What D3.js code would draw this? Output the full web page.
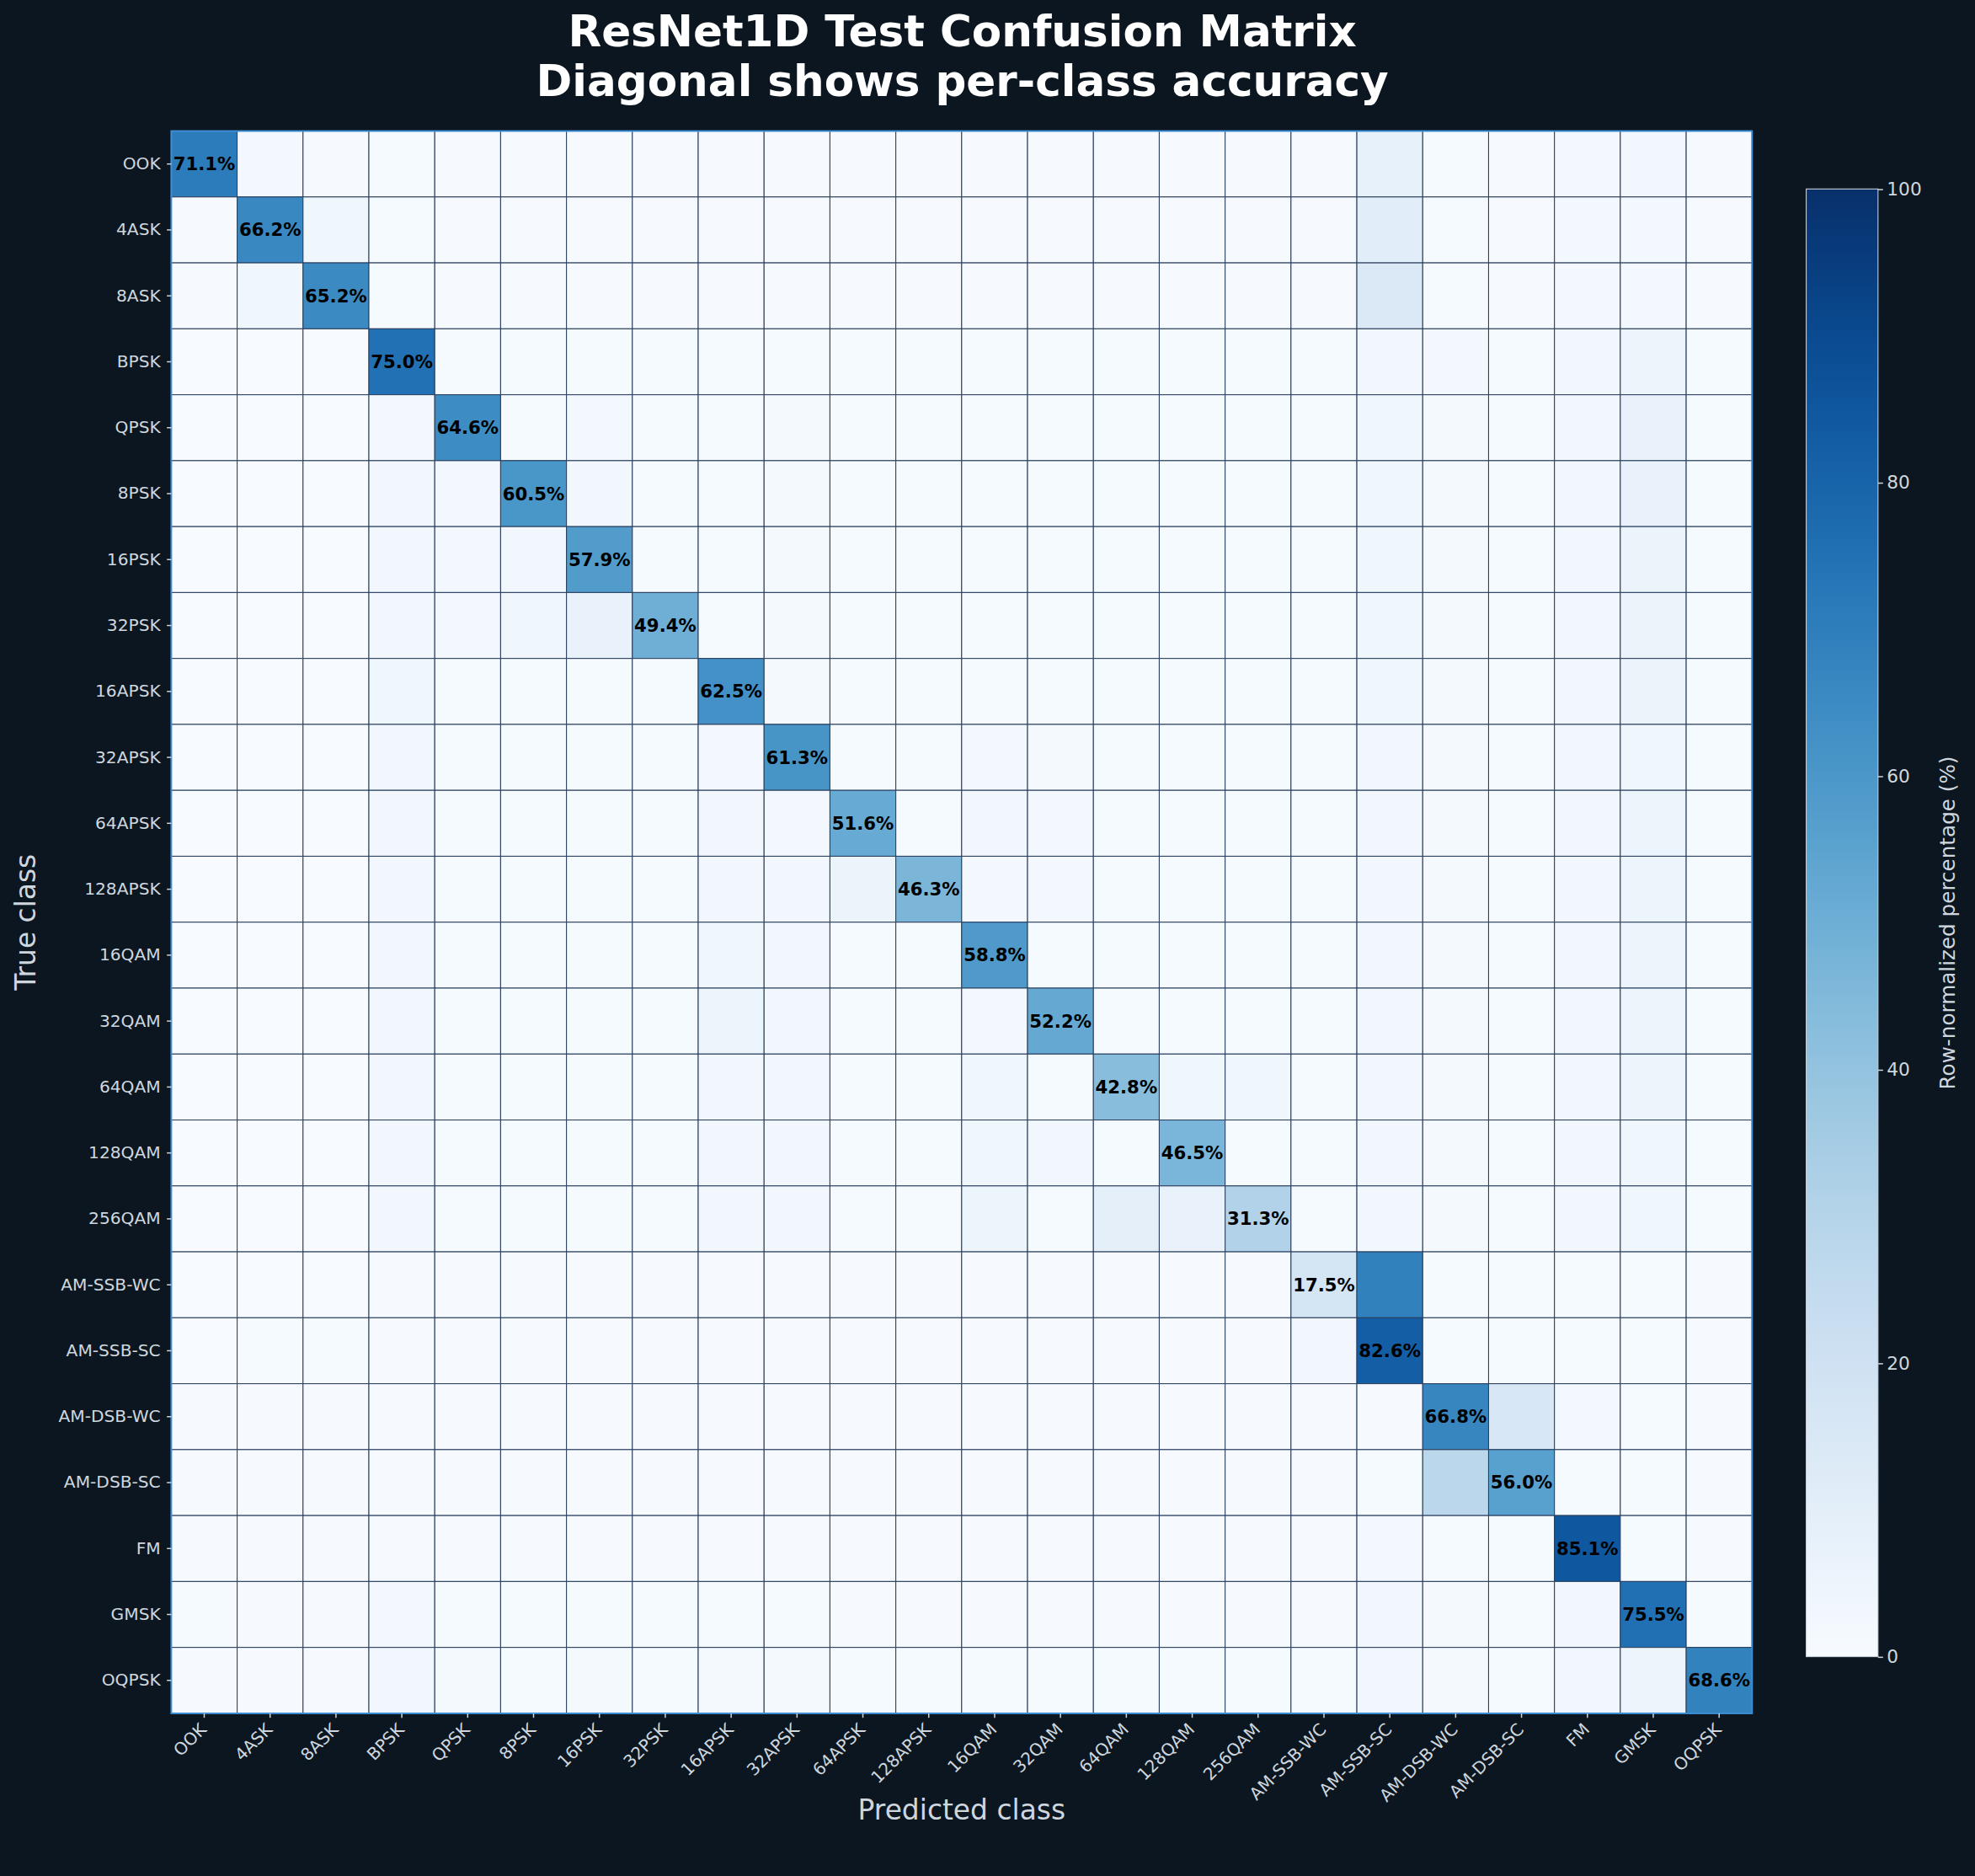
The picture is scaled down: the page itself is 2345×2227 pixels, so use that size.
<!DOCTYPE html>
<html><head><meta charset="utf-8">
<script src="https://cdn.jsdelivr.net/npm/d3@7"></script>
<style>body{margin:0;background:#0b1620;}</style></head>
<body><svg id="c" width="2345" height="2227"></svg>
<script>
const classes=["OOK","4ASK","8ASK","BPSK","QPSK","8PSK","16PSK","32PSK","16APSK","32APSK","64APSK","128APSK","16QAM","32QAM","64QAM","128QAM","256QAM","AM-SSB-WC","AM-SSB-SC","AM-DSB-WC","AM-DSB-SC","FM","GMSK","OQPSK"];
// Row-normalized percentages (true class rows, predicted class columns)
const matrix=[
[71.1,2,0.5,1,0.5,0.5,0.5,0.5,0.5,0.5,0.5,0.5,0.5,0.5,0.5,0.5,0.5,0.5,8,1,0.5,2,3,0.5],
[0.5,66.2,4,1,0.5,0.5,0.5,0.5,0.5,0.5,0.5,0.5,0.5,0.5,0.5,0.5,0.5,0.5,11,1,0.5,2,2,0.5],
[0.5,4,65.2,1,0.5,0.5,0.5,0.5,0.5,0.5,0.5,0.5,0.5,0.5,0.5,0.5,0.5,0.5,14,1,0.5,2,2,0.5],
[0.2,0.2,0.2,75.0,1,1,1,1,1,1,1,1,1,1,1,1,1,1,3,2,1,3,5,1],
[0.2,0.2,0.2,2,64.6,1,2,1,1,1.5,1,1,1,1,1,1,1,1,4,1.5,1,3,7,1],
[0.2,0.2,0.2,3,2,60.5,3,1,1,1.5,1,1,1,1,1,1,1,1,4,1.5,1,3,7,1],
[0.2,0.2,0.2,3,2,3,57.9,1,1,1.5,1,1,1,1,1,1,1,1,4,1.5,1,3,6,1],
[0.2,0.2,0.2,3,2,4,7,49.4,1,1.5,1,1,1,1,1,1,1,1,4,1.5,1,3,6,1],
[0.2,0.2,0.2,4,1,1,1,1,62.5,1.5,1,1,1,1,1,1,1,1,4,1.5,1,3,6,1],
[0.2,0.2,0.2,3,1,1,1,1,2,61.3,1,1,2,1.5,1,1,1,1,3,1.5,1,3,4,1],
[0.2,0.2,0.2,3,1,1,1,1,3,2,51.6,1,3,2,1,1,1,1,3,1.5,1,3,5,1],
[0.2,0.2,0.2,3,1,1,1,1,3,3,6,46.3,2,2,1,1,1,1,3,1.5,1,3,5,1],
[0.2,0.2,0.2,3,1,1,1,1,4,3,1,1,58.8,1,1,1,1,1,3,1.5,1,3,5,1],
[0.2,0.2,0.2,3,1,1,1,1,5,3,1,1,2,52.2,1,1,1,1,3,1.5,1,3,5,1],
[0.2,0.2,0.2,3,1,1,1,1,3,3,1,1,4,1,42.8,4,4,1,3,1.5,1,3,5,1],
[0.2,0.2,0.2,3,1,1,1,1,3,3,1,1,4,3,1,46.5,1,1,3,1.5,1,3,4,1],
[0.2,0.2,0.2,3,1,1,1,1,3,3,1,1,5,1,9,7,31.3,1,3,1.5,1,3,4,1],
[0.2,0.2,0.2,0.5,0.5,0.5,0.5,0.5,0.5,0.5,0.5,0.5,0.5,0.5,0.5,0.5,0.5,17.5,69,1,1,1,1,0.5],
[0.2,1,1,0.5,0.5,0.5,0.5,0.5,0.5,0.5,0.5,0.5,0.5,0.5,0.5,0.5,0.5,3,82.6,1,1,1,1,0.5],
[0.5,0.5,0.5,0.5,0.5,0.5,0.5,0.5,0.5,0.5,0.5,0.5,0.5,0.5,0.5,0.5,0.5,0.5,0.5,66.8,16,2,1,0.5],
[0.5,0.5,0.5,0.5,0.5,0.5,0.5,0.5,0.5,0.5,0.5,0.5,0.5,0.5,0.5,0.5,0.5,0.5,1,28,56.0,1,1,0.5],
[0.5,0.5,0.5,0.5,0.5,0.5,0.5,0.5,0.5,0.5,0.5,0.5,0.5,0.5,0.5,0.5,0.5,0.5,2,1,1,85.1,1,0.5],
[1,0.5,0.5,2,1,1,1,1,1,1,0.5,0.5,0.5,0.5,0.5,0.5,0.5,0.5,3,1.5,1,3,75.5,1],
[0.5,0.5,0.5,3,1.5,1,1.5,1,1.5,1.5,1,1,1,1,1,1,1,1,3,1.5,1,3,5,68.6]
];
const cbTicks=[0,20,40,60,80,100];

const svgRoot=d3.select("#c");
svgRoot.append("rect").attr("width",2345).attr("height",2227).attr("fill","#0b1620");
const s=2345/1568;
const svg=svgRoot.append("g").attr("transform","scale("+s+")");
const F="DejaVu Sans", TC="#cfd6de";
const L=136,T=104,W=1255,H=1256;
const x=d3.scaleBand().domain(classes).range([L,L+W]);
const y=d3.scaleBand().domain(classes).range([T,T+H]);
const color=d3.scaleSequential(d3.interpolateBlues).domain([0,100]);
const cells=[];
matrix.forEach((r,i)=>r.forEach((v,j)=>cells.push({i,j,v})));
svg.append("g").selectAll("rect").data(cells).join("rect")
 .attr("x",d=>x(classes[d.j])).attr("y",d=>y(classes[d.i]))
 .attr("width",x.bandwidth()).attr("height",y.bandwidth())
 .attr("fill",d=>color(d.v)).attr("stroke","#2b4160").attr("stroke-width",0.7);
svg.append("g").selectAll("text").data(cells.filter(d=>d.i===d.j)).join("text")
 .attr("x",d=>x(classes[d.j])+x.bandwidth()/2).attr("y",d=>y(classes[d.i])+y.bandwidth()/2)
 .attr("text-anchor","middle").attr("dominant-baseline","central")
 .attr("font-family",F).attr("font-weight","bold").attr("font-size",14.2).attr("fill","#000")
 .text(d=>d.v.toFixed(1)+"%");
svg.append("rect").attr("x",L).attr("y",T).attr("width",W).attr("height",H)
 .attr("fill","none").attr("stroke","#3d8fd6").attr("stroke-width",1.3);

const yAx=svg.append("g").attr("transform",`translate(${L},0)`).call(d3.axisLeft(y).tickSize(3.5));
const xAx=svg.append("g").attr("transform",`translate(0,${T+H})`).call(d3.axisBottom(x).tickSize(3.5));
[xAx,yAx].forEach(a=>{a.select(".domain").remove();a.selectAll("line").attr("stroke",TC);
 a.selectAll("text").attr("fill",TC).attr("font-family",F).attr("font-size",13.5);});
yAx.selectAll("text").attr("dx",-2);
xAx.selectAll("text").attr("text-anchor","end").attr("dy",0)
 .attr("transform","translate(-2,9) rotate(-45)");

svg.append("text").attr("x",L+W/2).attr("y",1444).attr("text-anchor","middle")
 .attr("fill",TC).attr("font-family",F).attr("font-size",22).text("Predicted class");
svg.append("text").attr("transform",`translate(28,${T+H/2}) rotate(-90)`).attr("text-anchor","middle")
 .attr("fill",TC).attr("font-family",F).attr("font-size",22).text("True class");
const tt=svg.append("text").attr("text-anchor","middle").attr("fill","#fff")
 .attr("font-family",F).attr("font-weight","bold").attr("font-size",34.5);
tt.append("tspan").attr("x",764).attr("y",37).text("ResNet1D Test Confusion Matrix");
tt.append("tspan").attr("x",764).attr("y",76).text("Diagonal shows per-class accuracy");

// colorbar
const cbX=1434,cbW=57,cbT=150,cbB=1315;
const defs=svg.append("defs");
const g=defs.append("linearGradient").attr("id","cb").attr("x1",0).attr("y1",1).attr("x2",0).attr("y2",0);
d3.range(0,1.001,0.05).forEach(t=>g.append("stop").attr("offset",t).attr("stop-color",color(t*100)));
svg.append("rect").attr("x",cbX).attr("y",cbT).attr("width",cbW).attr("height",cbB-cbT).attr("fill","url(#cb)")
 .attr("stroke",TC).attr("stroke-width",0.7);
const cy=d3.scaleLinear().domain([0,100]).range([cbB,cbT]);
const cAx=svg.append("g").attr("transform",`translate(${cbX+cbW},0)`).call(d3.axisRight(cy).tickValues(cbTicks).tickSize(4));
cAx.select(".domain").remove();cAx.selectAll("line").attr("stroke",TC);
cAx.selectAll("text").attr("fill",TC).attr("font-family",F).attr("font-size",14.5);
svg.append("text").attr("transform",`translate(1552,${(cbT+cbB)/2}) rotate(-90)`).attr("text-anchor","middle")
 .attr("fill",TC).attr("font-family",F).attr("font-size",16.5).text("Row-normalized percentage (%)");
</script></body></html>
